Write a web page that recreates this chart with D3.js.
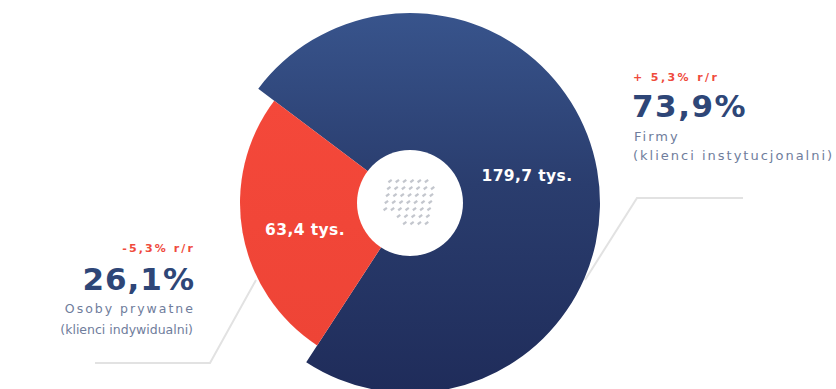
<!DOCTYPE html>
<html><head><meta charset="utf-8">
<script src="https://cdn.jsdelivr.net/npm/d3@7"></script>
<style>
html,body{margin:0;padding:0;background:#fff;}
svg{display:block;}
text{font-family:"DejaVu Sans",Verdana,sans-serif;}
</style></head>
<body>
<script>
const categories = ["Firmy", "Osoby prywatne"];
const subtitles = ["(klienci instytucjonalni)", "(klienci indywidualni)"];
const values = [179.7, 63.4];
const valueLabels = ["179,7 tys.", "63,4 tys."];
const shares = ["73,9%", "26,1%"];
const changes = ["+ 5,3% r/r", "-5,3% r/r"];

const W = 836, H = 389;
const cx = 410, cy = 203;
const svg = d3.select("body").append("svg").attr("width", W).attr("height", H);

const defs = svg.append("defs");
const g1 = defs.append("linearGradient").attr("id","blueGrad").attr("x1",0).attr("y1",0).attr("x2",0).attr("y2",1);
g1.append("stop").attr("offset","0%").attr("stop-color","#38548c");
g1.append("stop").attr("offset","45%").attr("stop-color","#2a3d6e");
g1.append("stop").attr("offset","100%").attr("stop-color","#1f2c5a");
const g2 = defs.append("linearGradient").attr("id","redGrad").attr("x1",0).attr("y1",0).attr("x2",0).attr("y2",1);
g2.append("stop").attr("offset","0%").attr("stop-color","#f4483a");
g2.append("stop").attr("offset","100%").attr("stop-color","#ee4436");

const colors = ["url(#blueGrad)", "url(#redGrad)"];
const outerR = [190, 170];
const innerR = 53;

// leader lines
const lines = svg.append("g").attr("fill","none").attr("stroke","#e2e2e2").attr("stroke-width",2);
lines.append("polyline").attr("points","585,280 637,198 743,198");
lines.append("polyline").attr("points","256,280 210,363 95,363");

const pie = d3.pie().sort(null).value(d => d)
  .startAngle(-53 * Math.PI / 180).endAngle(307 * Math.PI / 180);
const arcs = pie(values);

const g = svg.append("g").attr("transform", `translate(${cx},${cy})`);
g.selectAll("path").data(arcs).join("path")
  .attr("d", (d, i) => d3.arc().innerRadius(0).outerRadius(outerR[i])(d))
  .attr("fill", (d, i) => colors[i]);

g.append("circle").attr("r", innerR).attr("fill","#fff");

// dotted icon in hole
const dots = g.append("g").attr("fill","#b9bcc4");
for (let r = 0; r < 7; r++) {
  for (let c = 0; c < 7; c++) {
    if (r === 0 && c > 5) continue;
    if (r >= 5 && c < r - 3) continue;
    const x = -22 + c * 7.3 - r * 1.2;
    const y = -23 + r * 7;
    dots.append("rect").attr("x", x).attr("y", y).attr("width", 4).attr("height", 2.2)
      .attr("transform", `rotate(-35 ${x+2} ${y+1})`).attr("opacity", 0.85);
  }
}

// slice labels
svg.append("text").attr("x", 527).attr("y", 181).attr("text-anchor","middle")
  .attr("fill","#fff").attr("font-size",15.5).attr("font-weight",700).attr("letter-spacing",0.4).text(valueLabels[0]);
svg.append("text").attr("x", 305).attr("y", 235).attr("text-anchor","middle")
  .attr("fill","#fff").attr("font-size",15.5).attr("font-weight",700).attr("letter-spacing",0.4).text(valueLabels[1]);

// right annotation
const rt = svg.append("g");
rt.append("text").attr("x",633).attr("y",81).attr("fill","#ef4a3c").attr("font-size",11).attr("font-weight",700).attr("letter-spacing",2.4).text(changes[0]);
rt.append("text").attr("x",632).attr("y",117).attr("fill","#2e4677").attr("font-size",31).attr("font-weight",700).attr("letter-spacing",1.5).text(shares[0]);
rt.append("text").attr("x",634).attr("y",141).attr("fill","#6f7d9c").attr("font-size",13).attr("letter-spacing",2).text(categories[0]);
rt.append("text").attr("x",633).attr("y",160).attr("fill","#6f7d9c").attr("font-size",13).attr("letter-spacing",2).text(subtitles[0]);

// left annotation
const lt = svg.append("g").attr("text-anchor","end");
lt.append("text").attr("x",195).attr("y",252).attr("fill","#ef4a3c").attr("font-size",11).attr("font-weight",700).attr("letter-spacing",2.1).text(changes[1]);
lt.append("text").attr("x",195).attr("y",290).attr("fill","#2e4677").attr("font-size",31).attr("font-weight",700).attr("letter-spacing",1).text(shares[1]);
lt.append("text").attr("x",195).attr("y",313).attr("fill","#6f7d9c").attr("font-size",12.5).attr("letter-spacing",2).text(categories[1]);
lt.append("text").attr("x",193).attr("y",334).attr("fill","#6f7d9c").attr("font-size",12.5).text(subtitles[1]);
</script>
</body></html>
